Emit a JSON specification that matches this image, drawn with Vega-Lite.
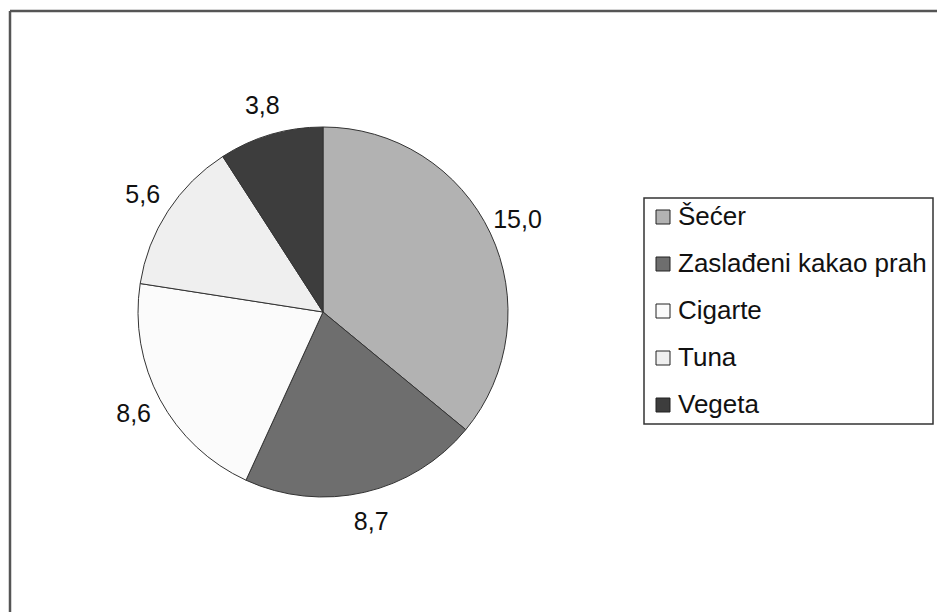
{
  "$schema": "https://vega.github.io/schema/vega-lite/v6.json",
  "autosize": {"type": "none"},
  "width": 927,
  "height": 601,
  "padding": {"left": 10, "top": 11, "right": 0, "bottom": 0},
  "background": "white",
  "view": {"stroke": "#555555", "strokeWidth": 2.5, "strokeDash": [927, 1528, 601, 0]},
  "config": {
    "locale": {"number": {"decimal": ",", "thousands": ".", "grouping": [3], "currency": ["", " €"]}},
    "font": "Liberation Sans",
    "legend": {"strokeWidth": 1.5}
  },
  "data": {
    "values": [
      {"kategorija": "Šećer", "vrijednost": 15.0, "redoslijed": 1},
      {"kategorija": "Zaslađeni kakao prah", "vrijednost": 8.7, "redoslijed": 2},
      {"kategorija": "Cigarte", "vrijednost": 8.6, "redoslijed": 3},
      {"kategorija": "Tuna", "vrijednost": 5.6, "redoslijed": 4},
      {"kategorija": "Vegeta", "vrijednost": 3.8, "redoslijed": 5}
    ]
  },
  "encoding": {
    "theta": {"field": "vrijednost", "type": "quantitative", "stack": true},
    "order": {"field": "redoslijed", "type": "quantitative"}
  },
  "layer": [
    {
      "mark": {"type": "arc", "x": 313, "y": 301, "outerRadius": 185, "stroke": "#333333", "strokeWidth": 1},
      "encoding": {
        "color": {
          "field": "kategorija",
          "type": "nominal",
          "scale": {
            "domain": ["Šećer", "Zaslađeni kakao prah", "Cigarte", "Tuna", "Vegeta"],
            "range": ["#b2b2b2", "#6e6e6e", "#fbfbfb", "#efefef", "#3d3d3d"]
          },
          "legend": {
            "title": null,
            "orient": "none",
            "legendX": 634,
            "legendY": 187,
            "direction": "vertical",
            "symbolType": "square",
            "symbolSize": 196,
            "symbolStrokeColor": "#222222",
            "symbolStrokeWidth": 1,
            "labelFont": "Liberation Sans",
            "labelFontSize": 26,
            "labelColor": "#111111",
            "labelOffset": 2,
            "labelLimit": 400,
            "rowPadding": 21,
            "padding": 6,
            "fillColor": "white",
            "strokeColor": "#333333"
          }
        }
      }
    },
    {
      "mark": {"type": "text", "x": 313, "y": 301, "radius": 215, "font": "Liberation Sans", "fontSize": 25, "color": "#111111"},
      "encoding": {
        "text": {"field": "vrijednost", "type": "quantitative", "format": ".1f"}
      }
    }
  ]
}
